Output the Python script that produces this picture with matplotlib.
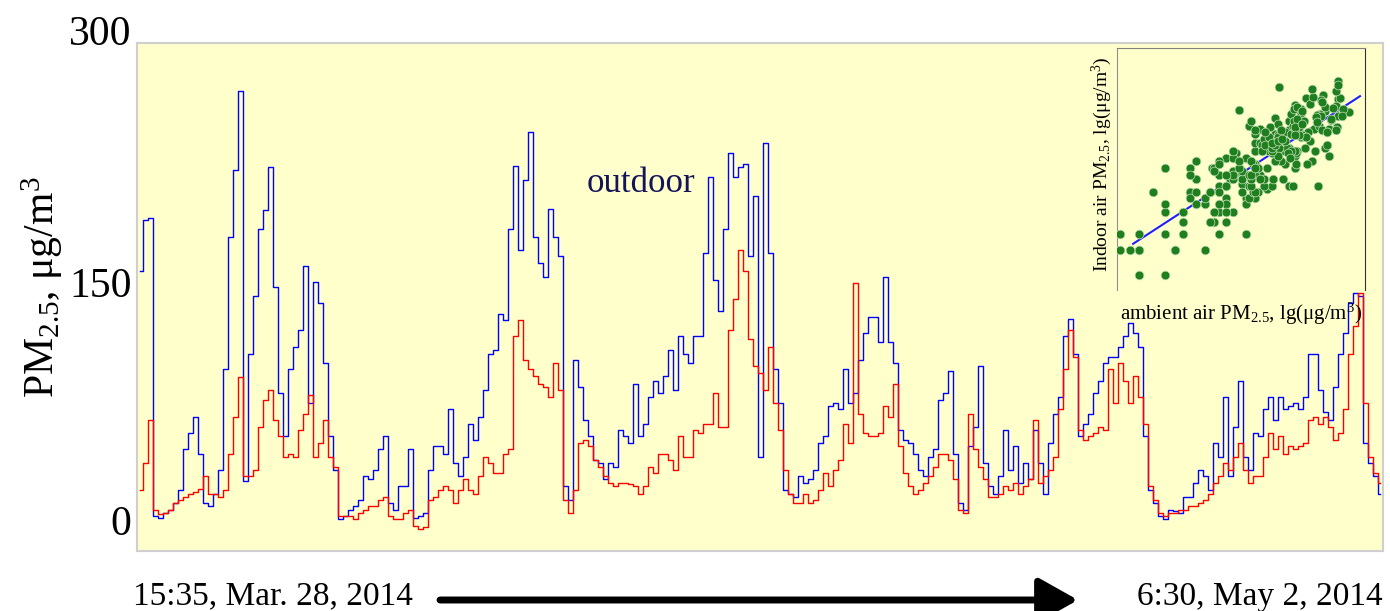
import numpy as np
import pandas as pd
import matplotlib
matplotlib.use("Agg")
from matplotlib import pyplot as plt
from matplotlib.transforms import ScaledTranslation

plt.rcParams['font.family'] = ['Liberation Serif', 'DejaVu Serif']
plt.rcParams['mathtext.fontset'] = 'custom'
plt.rcParams['mathtext.rm'] = 'Liberation Serif'
plt.rcParams['mathtext.it'] = 'Liberation Serif:italic'

# PM2.5 (ug/m3), evenly spaced in time
outdoor = [157, 189, 190, 3, 2, 5, 7, 11, 19, 45,
           55, 65, 42, 11, 9, 17, 32, 95, 178, 220,
           270, 25, 105, 141, 183, 195, 222, 147, 80, 53,
           95, 109, 120, 160, 74, 150, 137, 99, 53, 32,
           1, 3, 7, 9, 13, 28, 26, 32, 45, 53,
           11, 7, 22, 22, 45, 2, 3, 5, 32, 47,
           47, 42, 70, 36, 28, 40, 61, 51, 65, 82,
           105, 107, 130, 126, 183, 223, 170, 214, 244, 178,
           162, 153, 196, 178, 166, 22, 13, 101, 84, 63,
           53, 38, 36, 26, 36, 34, 57, 53, 49, 86,
           53, 61, 78, 88, 80, 91, 107, 82, 116, 105,
           99, 116, 116, 168, 216, 151, 132, 183, 231, 216,
           222, 224, 166, 204, 40, 237, 168, 95, 74, 19,
           17, 15, 28, 24, 26, 32, 49, 53, 72, 74,
           70, 95, 74, 80, 101, 118, 128, 128, 112, 153,
           112, 99, 57, 51, 49, 42, 32, 28, 40, 45,
           76, 80, 94, 42, 11, 7, 47, 59, 97, 36,
           22, 17, 28, 57, 32, 47, 24, 36, 26, 57,
           36, 17, 49, 67, 78, 116, 127, 105, 53, 61,
           67, 80, 88, 99, 103, 103, 109, 116, 124, 118,
           109, 53, 19, 11, 3, 1, 7, 6, 5, 15,
           15, 24, 32, 28, 19, 49, 40, 78, 28, 59,
           88, 40, 32, 55, 53, 70, 78, 63, 78, 70,
           72, 74, 70, 78, 105, 105, 82, 68, 63, 84,
           105, 118, 137, 143, 141, 49, 36, 28, 17]

indoor = [19, 36, 63, 7, 4, 5, 7, 11, 13, 15,
          17, 18, 20, 28, 17, 17, 15, 19, 42, 65,
          90, 28, 28, 32, 59, 76, 82, 63, 53, 40,
          42, 40, 57, 67, 79, 40, 49, 63, 40, 34,
          3, 3, 3, 1, 5, 7, 9, 9, 13, 15,
          3, 1, 1, 5, 7, -3, -5, -4, 13, 15,
          19, 22, 19, 11, 19, 26, 19, 17, 28, 40,
          36, 30, 30, 42, 45, 116, 126, 101, 95, 91,
          86, 84, 78, 99, 82, 13, 5, 19, 49, 51,
          47, 38, 34, 28, 24, 22, 24, 24, 23, 22,
          17, 22, 34, 30, 42, 42, 38, 32, 53, 40,
          40, 57, 55, 61, 61, 80, 59, 59, 120, 139,
          170, 157, 114, 97, 93, 82, 109, 74, 57, 32,
          17, 11, 11, 17, 11, 13, 19, 30, 22, 32,
          38, 61, 49, 149, 67, 55, 53, 53, 55, 72,
          65, 86, 47, 30, 22, 17, 19, 24, 28, 34,
          42, 42, 38, 26, 7, 5, 67, 45, 34, 26,
          15, 15, 17, 22, 19, 24, 17, 22, 26, 63,
          24, 28, 32, 40, 70, 95, 120, 103, 57, 51,
          53, 55, 59, 57, 95, 74, 99, 88, 74, 91,
          78, 61, 22, 13, 5, 3, 5, 5, 7, 7,
          9, 9, 11, 13, 17, 24, 28, 36, 32, 40,
          49, 32, 24, 28, 28, 40, 55, 45, 53, 42,
          47, 45, 47, 49, 63, 65, 61, 65, 59, 51,
          55, 70, 105, 122, 143, 74, 40, 30, 24]

start_label = '15:35, Mar. 28, 2014'
end_label = '6:30, May 2, 2014'
y_ticks = [0, 150, 300]

times = pd.date_range('2014-03-28 15:35', '2014-05-02 06:30', periods=len(outdoor))
out_arr = np.array(outdoor, dtype=float)
in_arr = np.array(indoor, dtype=float)

fig = plt.figure(figsize=(13.9, 6.11), dpi=100)
ax = fig.add_axes([0.0986, 0.0982, 0.8964, 0.8314])
ax.set_facecolor('#ffffcc')

ax.plot(times, out_arr, color='#0000ff', lw=1.0, drawstyle='steps-mid')
ax.plot(times, in_arr, color='#ff0000', lw=1.0, drawstyle='steps-mid')

pad = pd.Timedelta(hours=2)
ax.set_xlim(times[0] - pad, times[-1] + pad)
ax.set_ylim(-19, 300)
ax.set_xticks([])
ax.set_yticks(y_ticks)
ax.tick_params(axis='y', length=0, pad=4, labelsize=30)
for s in ax.spines.values():
    s.set_color('#cfcfcf')
    s.set_linewidth(1.5)

# top tick label sits a bit higher in the original
top_lab = ax.get_yticklabels()[-1]
top_lab.set_transform(top_lab.get_transform() +
                      ScaledTranslation(0, 13 / 100, fig.dpi_scale_trans))

ax.set_ylabel(r'PM$_{\mathrm{2.5}}$, μg/m$^{\mathrm{3}}$', fontsize=30)
ax.yaxis.set_label_coords(-0.058, 0.52)

ax.text(0.361, 0.69, 'outdoor', transform=ax.transAxes, fontsize=25,
        color='#14145a', va='bottom')

# inset: log indoor vs log ambient
ok = (out_arr > 0) & (in_arr > 0)
lx = np.log10(out_arr[ok])
ly = np.log10(in_arr[ok])
slope, icpt = np.polyfit(lx, ly, 1)

ax_in = fig.add_axes([0.8036, 0.5254, 0.1784, 0.396])
ax_in.set_facecolor('none')
xl = (0.68, 2.55)
yl = (0.34, 2.53)
ax_in.set_xlim(*xl)
ax_in.set_ylim(*yl)
ax_in.scatter(lx, ly, s=40, color='#1f7f1f', edgecolors='#c8e0b8',
              linewidths=0.5, zorder=3)
w = xl[1] - xl[0]
fx = np.array([xl[0] + 0.065 * w, xl[0] + 0.98 * w])
ax_in.plot(fx, slope * fx + icpt, color='#2020ff', lw=1.5, zorder=2)
ax_in.set_xticks([])
ax_in.set_yticks([])
ax_in.spines['bottom'].set_visible(False)
ax_in.spines['left'].set_color('#909090')
ax_in.spines['top'].set_color('#808080')
ax_in.spines['right'].set_color('#303030')
ax_in.set_ylabel(r'Indoor air PM$_{\mathrm{2.5}}$, lg(μg/m$^{\mathrm{3}}$)',
                 fontsize=14)
ax_in.yaxis.set_label_coords(-0.012, 0.52)
ax_in.set_xlabel(r'ambient air PM$_{\mathrm{2.5}}$, lg(μg/m$^{\mathrm{3}}$)',
                 fontsize=15)
ax_in.xaxis.set_label_coords(0.5, -0.045)

# time span under the axis
fig.text(0.0957, 0.024, start_label, fontsize=24, ha='left', va='center')
fig.text(0.995, 0.024, end_label, fontsize=24, ha='right', va='center')
ax.annotate('', xy=(1078 / 1390, 1 - 600 / 611), xytext=(440 / 1390, 1 - 600 / 611),
            xycoords='figure fraction', textcoords='figure fraction',
            arrowprops=dict(arrowstyle='-|>,head_length=0.8,head_width=0.45',
                            lw=5, color='black', mutation_scale=30,
                            shrinkA=0, shrinkB=0))

fig.savefig('out.png', dpi=100, facecolor='white')
